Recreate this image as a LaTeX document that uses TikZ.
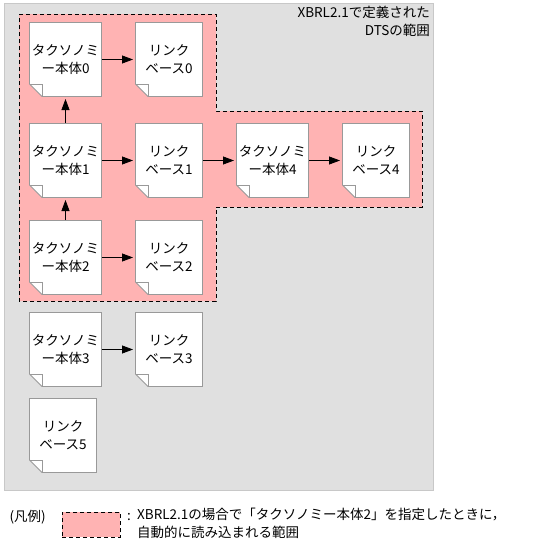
\documentclass[tikz,border=0pt]{standalone}
\usepackage{fontspec}
\setmainfont{Noto Sans CJK JP}
\usepackage{xcolor}
\usepackage{tikz}
\usetikzlibrary{arrows.meta, positioning}

\definecolor{dtsgray}{HTML}{E0E0E0}
\definecolor{dtsedge}{HTML}{C8C8C8}
\definecolor{loadpink}{HTML}{FFB3B3}
\definecolor{docedge}{HTML}{999999}

\begin{document}
\begin{tikzpicture}[
    x=1pt, y=-1pt,
    every node/.style={font=\fontsize{13.5}{18}\selectfont},
    docbox/.style={rectangle, inner sep=0pt, outer sep=0pt,
        minimum height=75pt, align=center,
        path picture={
            \draw[docedge, fill=white, line width=0.8pt]
                ([shift={(0.5pt,13pt)}]path picture bounding box.south west)
                -- ([shift={(0.5pt,-0.5pt)}]path picture bounding box.north west)
                -- ([shift={(-0.5pt,-0.5pt)}]path picture bounding box.north east)
                -- ([shift={(-0.5pt,0.5pt)}]path picture bounding box.south east)
                -- ([shift={(13pt,0.5pt)}]path picture bounding box.south west) -- cycle;
            \draw[docedge, line width=0.8pt]
                ([shift={(0.5pt,13pt)}]path picture bounding box.south west)
                -- ([shift={(13pt,13pt)}]path picture bounding box.south west)
                -- ([shift={(13pt,0.5pt)}]path picture bounding box.south west);}},
    taxdoc/.style={docbox, minimum width=73pt},
    linkdoc/.style={docbox, minimum width=68pt},
    region/.style={fill=loadpink, draw=black, dash pattern=on 4pt off 3pt, line width=0.8pt},
    arrow/.style={-{Triangle[length=11pt, width=8pt]}, line width=0.8pt, shorten >=2pt},
]

\useasboundingbox (0,0) rectangle (547,554);

% DTS area and loaded area
\fill[dtsgray, draw=dtsedge, line width=0.8pt] (4,3.5) rectangle (433,490);
\draw[region] (19,14) -- (216,14) -- (216,111) -- (422,111) -- (422,207)
    -- (216,207) -- (216,301) -- (19,301) -- cycle;

\node[anchor=north east, align=right, inner sep=0pt] (dtslabel) at (430,6)
    {XBRL2.1で定義された\\DTSの範囲};

\node[taxdoc, anchor=north west] (tax0) at (29,22) {タクソノミ\\ー本体0};
\node[linkdoc, right=33pt of tax0] (link0) {リンク\\ベース0};
\node[taxdoc, below=26pt of tax0] (tax1) {タクソノミ\\ー本体1};
\node[linkdoc, right=33pt of tax1] (link1) {リンク\\ベース1};
\node[taxdoc, right=33pt of link1] (tax4) {タクソノミ\\ー本体4};
\node[linkdoc, right=33pt of tax4] (link4) {リンク\\ベース4};
\node[taxdoc, below=22pt of tax1] (tax2) {タクソノミ\\ー本体2};
\node[linkdoc, right=33pt of tax2] (link2) {リンク\\ベース2};
\node[taxdoc, below=17pt of tax2] (tax3) {タクソノミ\\ー本体3};
\node[linkdoc, right=33pt of tax3] (link3) {リンク\\ベース3};
\node[linkdoc, below right=11pt and 0pt of tax3.south west] (link5) {リンク\\ベース5};

\draw[arrow] (tax0) -- (link0);
\draw[arrow] (tax1) -- (link1);
\draw[arrow] (link1) -- (tax4);
\draw[arrow] (tax4) -- (link4);
\draw[arrow] (tax2) -- (link2);
\draw[arrow] (tax3) -- (link3);
\draw[arrow] (tax1) -- (tax0);
\draw[arrow] (tax2) -- (tax1);

% legend
\node[anchor=west] (legendhead) at (6,517) {(凡例)};
\node[region, anchor=north west, minimum width=58pt, minimum height=25pt, inner sep=0pt] (legendbox) at (62,512) {};
\node[anchor=west, inner sep=0pt] (legendsep) at (127,517) {:};
\node[anchor=north west, align=left, inner sep=0pt] (legendtext) at (137,508)
    {XBRL2.1の場合で「タクソノミー本体2」を指定したときに，\\自動的に読み込まれる範囲};

\end{tikzpicture}
\end{document}
